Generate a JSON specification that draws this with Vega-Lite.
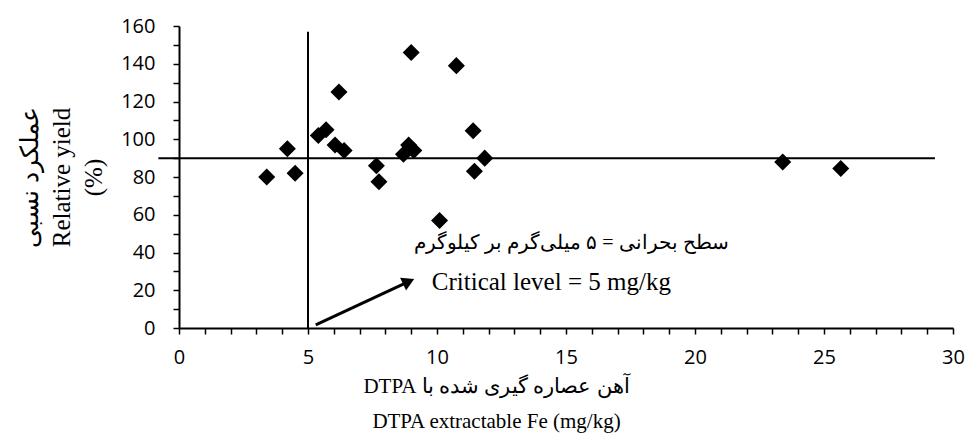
{
  "$schema": "https://vega.github.io/schema/vega-lite/v6.json",
  "width": 774,
  "height": 302,
  "autosize": {"type": "none"},
  "padding": {"left": 179, "top": 26, "right": 17, "bottom": 115},
  "background": "white",
  "config": {
    "view": {"stroke": null},
    "axis": {
      "grid": false,
      "domainColor": "#000",
      "domainWidth": 2,
      "tickColor": "#000",
      "tickWidth": 1.5,
      "tickSize": 6,
      "labelColor": "#000",
      "titleColor": "#000",
      "labelFont": "Open Sans",
      "labelFontSize": 20,
      "labelOverlap": false,
      "titleFont": "Liberation Serif",
      "titleFontWeight": "normal"
    }
  },
  "resolve": {"axis": {"x": "independent", "y": "independent"}},
  "layer": [
    {
      "data": {"values": [
        {"fe": 3.4, "ry": 80}, {"fe": 4.2, "ry": 95}, {"fe": 4.5, "ry": 82},
        {"fe": 5.4, "ry": 102}, {"fe": 5.7, "ry": 105}, {"fe": 6.2, "ry": 125},
        {"fe": 6.05, "ry": 97}, {"fe": 6.4, "ry": 94}, {"fe": 7.65, "ry": 86},
        {"fe": 7.75, "ry": 77.5}, {"fe": 8.7, "ry": 92}, {"fe": 8.9, "ry": 97},
        {"fe": 9.1, "ry": 94}, {"fe": 9.0, "ry": 146}, {"fe": 10.75, "ry": 139},
        {"fe": 11.4, "ry": 104.5}, {"fe": 11.85, "ry": 90}, {"fe": 11.45, "ry": 83},
        {"fe": 10.1, "ry": 57}, {"fe": 23.4, "ry": 88}, {"fe": 25.65, "ry": 84.5}
      ]},
      "mark": {"type": "point", "shape": "diamond", "filled": true, "color": "#000", "size": 290, "opacity": 1},
      "encoding": {
        "x": {
          "field": "fe", "type": "quantitative",
          "scale": {"domain": [0, 30], "nice": false, "zero": false},
          "axis": {
            "orient": "bottom",
            "values": [0,1,2,3,4,5,6,7,8,9,10,11,12,13,14,15,16,17,18,19,20,21,22,23,24,25,26,27,28,29,30],
            "labels": false,
            "title": null
          }
        },
        "y": {
          "field": "ry", "type": "quantitative",
          "scale": {"domain": [0, 160], "nice": false, "zero": false},
          "axis": {
            "orient": "left",
            "values": [0,10,20,30,40,50,60,70,80,90,100,110,120,130,140,150,160],
            "labels": false,
            "title": null
          }
        }
      }
    },
    {
      "data": {"values": [{"x": -0.8, "x2": 29.3, "y": 90}]},
      "mark": {"type": "rule", "color": "#000", "strokeWidth": 2},
      "encoding": {
        "x": {
          "field": "x", "type": "quantitative",
          "axis": {
            "orient": "bottom",
            "values": [0,5,10,15,20,25,30],
            "ticks": false,
            "domain": false,
            "labelPadding": 19,
            "labelFlush": false,
            "title": ["\u202Bآهن عصاره گیری شده با DTPA\u202C", "DTPA extractable Fe (mg/kg)"],
            "titleFontSize": 21,
            "titleLineHeight": 35,
            "titleX": 317,
            "titleAlign": "center",
            "titlePadding": 8
          }
        },
        "x2": {"field": "x2"},
        "y": {
          "field": "y", "type": "quantitative",
          "axis": {
            "orient": "left",
            "values": [0,20,40,60,80,100,120,140,160],
            "ticks": false,
            "domain": false,
            "labelPadding": 24,
            "labelFlush": false,
            "title": ["عملکرد نسبی", "Relative yield", "(%)"],
            "titleFontSize": 25,
            "titleLineHeight": 32,
            "titlePadding": 14
          }
        }
      }
    },
    {
      "data": {"values": [{"x": 5, "y": 0, "y2": 157}]},
      "mark": {"type": "rule", "color": "#000", "strokeWidth": 2},
      "encoding": {
        "x": {"field": "x", "type": "quantitative", "axis": null},
        "y": {"field": "y", "type": "quantitative", "axis": null},
        "y2": {"field": "y2"}
      }
    },
    {
      "data": {"values": [{"x": 5.3, "y": 1.6, "x2": 8.9, "y2": 24.6}]},
      "mark": {"type": "rule", "color": "#000", "strokeWidth": 3},
      "encoding": {
        "x": {"field": "x", "type": "quantitative", "axis": null},
        "y": {"field": "y", "type": "quantitative", "axis": null},
        "x2": {"field": "x2"},
        "y2": {"field": "y2"}
      }
    },
    {
      "data": {"values": [{"x": 8.9, "y": 24.6}]},
      "mark": {"type": "point", "shape": "triangle-up", "filled": true, "color": "#000", "size": 200, "angle": 65, "opacity": 1},
      "encoding": {
        "x": {"field": "x", "type": "quantitative", "axis": null},
        "y": {"field": "y", "type": "quantitative", "axis": null}
      }
    },
    {
      "data": {"values": [{"x": 21.3, "y": 45, "label": "\u202Bسطح بحرانی = ۵ میلی‌گرم بر کیلوگرم\u202C"}]},
      "mark": {"type": "text", "font": "Liberation Serif", "fontSize": 20, "align": "right", "baseline": "middle", "color": "#000"},
      "encoding": {
        "x": {"field": "x", "type": "quantitative", "axis": null},
        "y": {"field": "y", "type": "quantitative", "axis": null},
        "text": {"field": "label"}
      }
    },
    {
      "data": {"values": [{"x": 9.8, "y": 24.4, "label": "Critical level = 5 mg/kg"}]},
      "mark": {"type": "text", "font": "Liberation Serif", "fontSize": 25, "align": "left", "baseline": "middle", "color": "#000"},
      "encoding": {
        "x": {"field": "x", "type": "quantitative", "axis": null},
        "y": {"field": "y", "type": "quantitative", "axis": null},
        "text": {"field": "label"}
      }
    }
  ]
}
